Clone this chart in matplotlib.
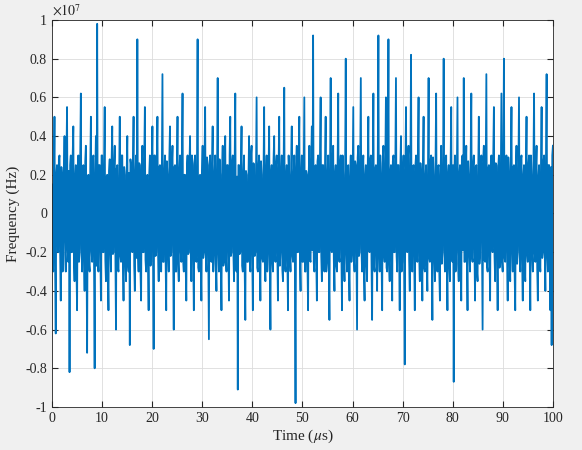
import numpy as np
import matplotlib
matplotlib.use("Agg")
import matplotlib.pyplot as plt

# main samples (units of 1e7 Hz)
values = [
0.15,-0.3,0.5,-0.62,0.25,-0.2,0.3,-0.45,0.2,-0.15,0.4,-0.3,0.55,-0.25,-0.82,0.3,-0.2,0.45,-0.35,0.25,
-0.5,0.3,-0.2,0.62,-0.3,0.25,-0.4,0.35,-0.72,0.2,-0.3,0.5,-0.25,0.3,-0.8,0.4,0.98,-0.3,0.25,-0.45,
0.3,-0.2,0.55,-0.35,0.2,-0.5,0.28,-0.3,0.45,-0.2,0.35,-0.6,0.25,-0.3,0.5,-0.25,0.3,-0.45,0.2,-0.35,
0.4,-0.3,-0.68,0.25,-0.2,0.5,-0.4,0.3,0.9,-0.3,0.25,-0.45,0.35,-0.2,0.55,-0.3,0.2,-0.5,0.3,-0.25,
0.45,-0.7,0.3,-0.2,0.5,-0.35,0.25,-0.3,0.72,-0.25,0.3,-0.5,0.2,-0.3,0.45,-0.2,0.35,-0.6,0.25,-0.3,
0.5,-0.35,0.3,-0.25,0.62,-0.3,0.2,-0.45,0.3,-0.2,0.4,-0.35,0.25,-0.5,0.3,-0.25,0.9,-0.3,0.2,-0.45,
0.35,-0.2,0.55,-0.3,0.25,-0.65,0.3,-0.25,0.45,-0.2,0.3,-0.4,0.7,-0.3,0.2,-0.5,0.35,-0.25,0.4,-0.3,
0.25,-0.45,0.5,-0.2,0.3,-0.35,0.62,-0.3,-0.91,0.25,-0.2,0.45,-0.3,0.3,-0.55,0.2,-0.25,0.4,-0.3,0.35,
-0.5,0.25,-0.2,0.6,-0.3,0.3,-0.45,0.2,-0.25,0.55,-0.35,0.3,-0.2,0.45,-0.6,0.25,-0.3,0.4,-0.25,0.3,
-0.45,0.5,-0.2,0.3,-0.35,0.65,-0.3,0.25,-0.5,0.2,-0.3,0.45,-0.25,0.3,-0.98,0.35,-0.2,0.5,-0.4,0.3,
-0.25,0.6,-0.3,0.2,-0.5,0.35,-0.25,0.45,0.92,-0.3,0.25,-0.45,0.3,-0.2,0.6,-0.35,0.25,-0.3,0.5,-0.25,
0.3,-0.55,0.7,-0.2,0.35,-0.4,0.25,-0.3,0.62,-0.25,0.3,-0.5,0.2,-0.35,0.8,-0.3,0.25,-0.45,0.3,-0.2,
0.55,-0.3,0.25,-0.6,0.35,-0.2,0.7,-0.3,0.3,-0.45,0.25,-0.35,0.5,-0.2,0.3,-0.55,0.62,-0.3,0.25,-0.4,
0.92,-0.3,0.2,-0.5,0.35,-0.25,0.6,-0.3,0.9,-0.35,0.25,-0.45,0.3,-0.2,0.7,-0.3,0.25,-0.5,0.4,-0.25,
0.3,-0.78,0.55,-0.2,0.35,-0.4,0.82,-0.3,0.25,-0.5,0.3,-0.25,0.6,-0.35,0.2,-0.45,0.5,-0.3,0.25,-0.4,
0.7,-0.25,0.3,-0.55,0.2,-0.35,0.62,-0.3,0.25,-0.45,0.35,-0.2,0.8,-0.3,0.3,-0.5,0.25,-0.35,0.55,-0.25,
-0.87,0.3,-0.2,0.6,-0.35,0.25,-0.45,0.3,0.7,-0.25,0.35,-0.5,0.2,-0.3,0.62,-0.25,0.3,-0.45,0.25,-0.35,
0.5,-0.2,0.3,-0.6,0.35,-0.25,0.72,-0.3,0.25,-0.45,0.3,-0.2,0.55,-0.35,0.25,-0.5,0.3,-0.25,0.62,-0.3,
0.8,-0.25,0.3,-0.45,0.2,-0.35,0.55,-0.3,0.25,-0.5,0.35,-0.2,0.6,-0.3,0.3,-0.45,0.25,-0.35,0.5,-0.25,
0.3,-0.5,0.2,-0.3,0.62,-0.25,0.35,-0.45,0.25,-0.3,0.55,-0.2,0.3,-0.4,0.72,-0.3,0.25,-0.5,-0.68,0.35,
]
# in-between samples of the dense core (units of 1e7 Hz)
core = [
-0.22,0.18,-0.27,0.2,-0.15,0.28,-0.2,0.24,-0.3,0.17,-0.21,0.26,-0.18,0.22,0.25,-0.2,0.3,-0.24,0.19,-0.28,
0.21,-0.25,0.29,-0.18,0.23,-0.2,0.27,-0.22,0.18,-0.26,0.24,-0.19,0.28,-0.21,0.2,-0.27,-0.23,0.25,-0.18,0.3,
-0.2,0.26,-0.24,0.19,-0.29,0.22,-0.18,0.27,-0.21,0.25,-0.2,0.23,-0.28,0.18,-0.22,0.3,-0.19,0.24,-0.26,0.2,
-0.25,0.21,0.28,-0.18,0.24,-0.27,0.2,-0.23,-0.19,0.26,-0.3,0.22,-0.2,0.28,-0.24,0.18,-0.25,0.21,-0.27,0.23,
-0.2,0.3,-0.22,0.26,-0.18,0.24,-0.28,0.21,-0.25,0.19,-0.23,0.27,-0.2,0.29,-0.22,0.25,-0.18,0.24,-0.3,0.2,
-0.26,0.22,-0.19,0.28,-0.24,0.2,-0.27,0.23,-0.21,0.25,-0.18,0.3,-0.22,0.26,-0.2,0.24,-0.28,0.19,-0.25,0.21,
-0.23,0.27,-0.2,0.29,-0.22,0.25,-0.18,0.24,-0.3,0.2,-0.26,0.22,-0.19,0.28,-0.24,0.2,-0.27,0.23,-0.21,0.25,
-0.18,0.3,-0.22,0.26,-0.2,0.24,-0.28,0.19,0.25,-0.21,0.23,-0.27,0.2,-0.29,0.22,-0.25,0.18,-0.24,0.3,-0.2,
0.26,-0.22,0.19,-0.28,0.24,-0.2,0.27,-0.23,0.21,-0.25,0.18,-0.3,0.22,-0.26,0.2,-0.24,0.28,-0.19,0.25,-0.21,
0.23,-0.27,0.2,-0.29,0.22,-0.25,0.18,-0.24,0.3,-0.2,0.26,-0.22,0.19,-0.28,0.24,-0.2,0.27,-0.23,0.21,-0.25,
0.18,-0.3,0.22,-0.26,0.2,-0.24,0.28,-0.19,-0.25,0.21,-0.23,0.27,-0.2,0.29,-0.22,0.25,-0.18,0.24,-0.3,0.2,
-0.26,0.22,-0.19,0.28,-0.24,0.2,-0.27,0.23,-0.21,0.25,-0.18,0.3,-0.22,0.26,-0.2,0.24,-0.28,0.19,-0.25,0.21,
-0.23,0.27,-0.2,0.29,-0.22,0.25,-0.18,0.24,-0.3,0.2,-0.26,0.22,-0.19,0.28,-0.24,0.2,-0.27,0.23,-0.21,0.25,
-0.18,0.3,-0.22,0.26,-0.2,0.24,-0.28,0.19,-0.25,0.21,-0.23,0.27,-0.2,0.29,-0.22,0.25,-0.18,0.24,-0.3,0.2,
-0.26,0.22,-0.19,0.28,-0.24,0.2,-0.27,0.23,-0.21,0.25,-0.18,0.3,-0.22,0.26,-0.2,0.24,-0.28,0.19,-0.25,0.21,
-0.23,0.27,-0.2,0.29,-0.22,0.25,-0.18,0.24,-0.3,0.2,-0.26,0.22,-0.19,0.28,-0.24,0.2,-0.27,0.23,-0.21,0.25,
0.18,-0.3,0.22,-0.26,0.2,-0.24,0.28,-0.19,-0.25,0.21,-0.23,0.27,-0.2,0.29,-0.22,0.25,-0.18,0.24,-0.3,0.2,
-0.26,0.22,-0.19,0.28,-0.24,0.2,-0.27,0.23,-0.21,0.25,-0.18,0.3,-0.22,0.26,-0.2,0.24,-0.28,0.19,-0.25,0.21,
-0.23,0.27,-0.2,0.29,-0.22,0.25,-0.18,0.24,-0.3,0.2,-0.26,0.22,-0.19,0.28,-0.24,0.2,-0.27,0.23,-0.21,0.25,
-0.18,0.3,-0.22,0.26,-0.2,0.24,-0.28,0.19,-0.25,0.21,-0.23,0.27,-0.2,0.29,-0.22,0.25,-0.18,0.24,0.3,
]
scale = 1e7
merged = []
for i, v in enumerate(values):
    merged.append(v)
    if i < len(core):
        merged.append(core[i])
time_us = np.linspace(0, 100, len(merged))
freq = np.array(merged) * scale

plt.rcParams['font.family'] = ['Liberation Serif', 'DejaVu Serif']
plt.rcParams['mathtext.fontset'] = 'stix'
fig = plt.figure(figsize=(5.82, 4.5), dpi=100, facecolor='#f0f0f0')
ax = fig.add_axes([0.0893, 0.0956, 0.8607, 0.86])
ax.plot(time_us, freq, color='#0072BD', lw=1.3)
ax.set_xlim(0, 100)
ax.set_ylim(-1e7, 1e7)
ax.set_xticks(np.arange(0, 101, 10))
yt = np.arange(-1, 1.01, 0.2)
ax.set_yticks(yt * scale)
ax.set_yticklabels(['-1', '-0.8', '-0.6', '-0.4', '-0.2', '0', '0.2', '0.4', '0.6', '0.8', '1'])
ax.text(0, 1.003, r'$\times10^7$', transform=ax.transAxes, fontsize=10, va='bottom', ha='left', color='#262626')
ax.grid(True, color='#dcdcdc', lw=0.6)
ax.tick_params(direction='in', labelsize=10, colors='#262626', top=True, right=True, length=4)
for s in ax.spines.values():
    s.set_color('#262626'); s.set_linewidth(0.6)
ax.set_xlabel(r'Time ($\mu$s)', fontsize=11, color='#262626', labelpad=2)
ax.set_ylabel('Frequency (Hz)', fontsize=11, color='#262626')
fig.savefig('out.png', dpi=100, facecolor=fig.get_facecolor())
